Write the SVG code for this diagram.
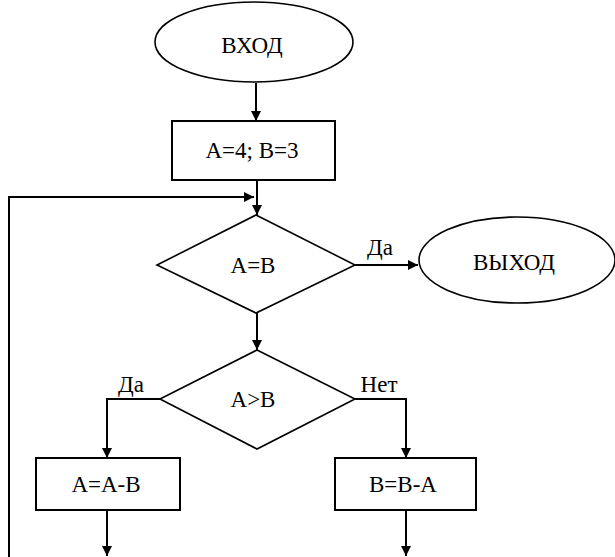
<svg xmlns="http://www.w3.org/2000/svg" width="615" height="557" viewBox="0 0 615 557" font-family="'Liberation Serif', 'Times New Roman', serif" font-size="23">
<style>
.sh{fill:#fff;stroke:#000;stroke-width:1.6}
.bx{fill:#fff;stroke:#000;stroke-width:2}
.ln{fill:none;stroke:#000;stroke-width:2}
.t{font-family:'Liberation Serif','Times New Roman',serif;font-size:23px;fill:#000;text-anchor:middle}
</style>
<defs>
<marker id="ah" viewBox="0 0 10 10" refX="10" refY="5" markerWidth="5" markerHeight="5" markerUnits="strokeWidth" orient="auto">
<path d="M0,0 L10,5 L0,10 z" fill="#000"/>
</marker>
</defs>
<rect width="615" height="557" fill="#fff"/>
<g id="connectors">
<path class="ln" d="M256,83 V121" marker-end="url(#ah)"/>
<path class="ln" d="M257,180 V215" marker-end="url(#ah)"/>
<path class="ln" d="M9,557 V197 H254" marker-end="url(#ah)"/>
<path class="ln" d="M355,265 H418" marker-end="url(#ah)"/>
<path class="ln" d="M257,313 V350" marker-end="url(#ah)"/>
<path class="ln" d="M160,399 H107 V458" marker-end="url(#ah)"/>
<path class="ln" d="M355,399 H406 V458" marker-end="url(#ah)"/>
<path class="ln" d="M107,510 V556" marker-end="url(#ah)"/>
<path class="ln" d="M406,510 V556" marker-end="url(#ah)"/>
<text x="380" y="255" class="t" font-family="Liberation Serif">Да</text>
<text x="131" y="392" class="t" font-family="Liberation Serif">Да</text>
<text x="379" y="392" class="t" font-family="Liberation Serif">Нет</text>
</g>
<g id="start">
<ellipse class="sh" cx="254" cy="42" rx="99" ry="40"/>
<text x="252" y="53" class="t" font-family="Liberation Serif">ВХОД</text>
</g>
<g id="init">
<rect class="bx" x="172" y="121" width="163" height="59"/>
<text x="252" y="158" class="t" font-family="Liberation Serif">A=4; B=3</text>
</g>
<g id="cond1">
<polygon class="sh" points="256,215 355,265 256,313 157,265"/>
<text x="253" y="273" class="t" font-family="Liberation Serif">A=B</text>
</g>
<g id="exit">
<ellipse class="sh" cx="517" cy="260" rx="98" ry="43"/>
<text x="514" y="270" class="t" font-family="Liberation Serif">ВЫХОД</text>
</g>
<g id="cond2">
<polygon class="sh" points="257,350 355,399 257,449 160,399"/>
<text x="253" y="407" class="t" font-family="Liberation Serif">A&gt;B</text>
</g>
<g id="subA">
<rect class="bx" x="36" y="458" width="144" height="52"/>
<text x="106" y="492" class="t" font-family="Liberation Serif">A=A-B</text>
</g>
<g id="subB">
<rect class="bx" x="335" y="458" width="141" height="52"/>
<text x="403" y="492" class="t" font-family="Liberation Serif">B=B-A</text>
</g>
</svg>
